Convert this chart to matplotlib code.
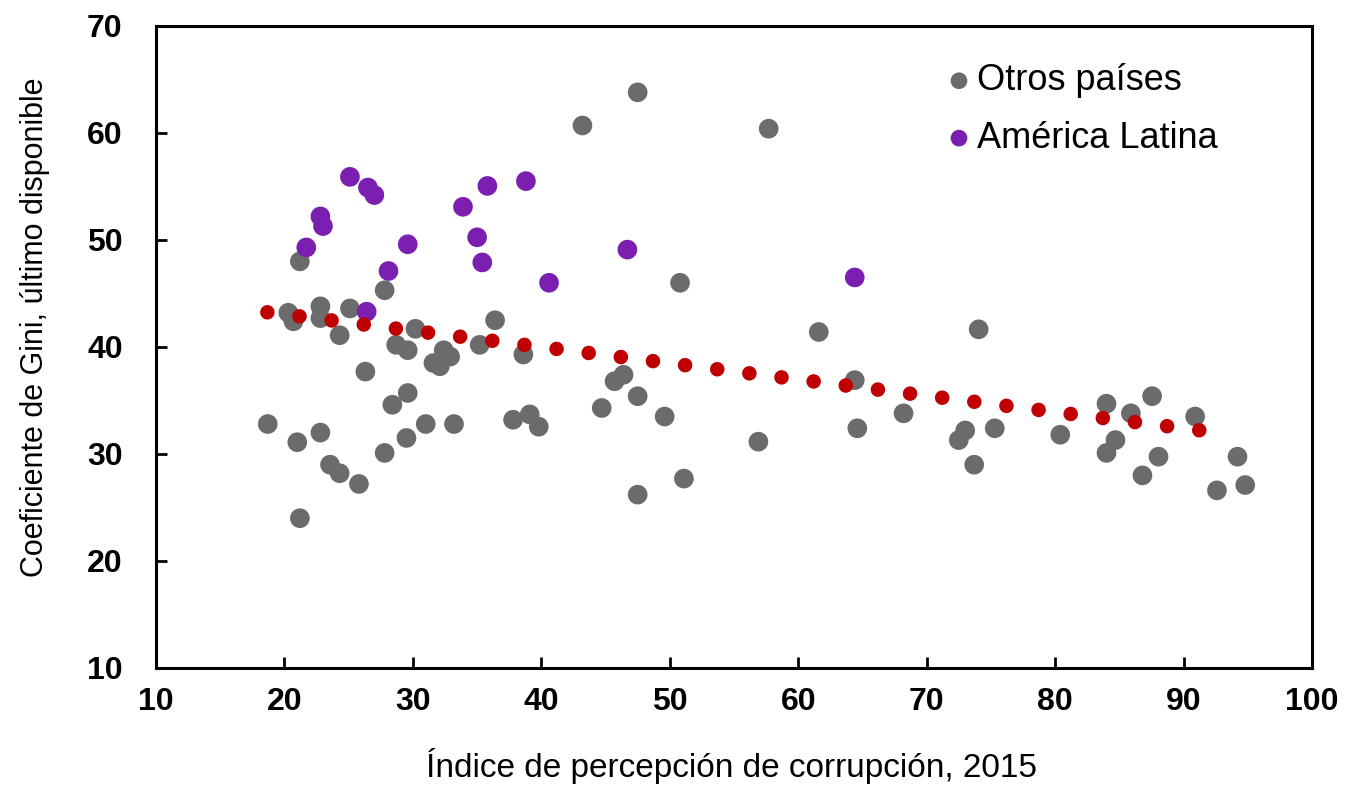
import matplotlib
matplotlib.use('Agg')
import matplotlib.pyplot as plt

# Otros países (gray)
otros_x = [18.7, 21.0, 22.8, 21.2, 23.55, 24.3, 25.8, 27.8, 29.5, 31.0, 33.2, 37.8,
           39.1, 39.8, 28.4, 29.6, 26.3, 28.7, 29.6, 30.2, 31.6, 32.4, 32.9, 32.1,
           35.2, 36.4, 38.6, 24.3, 22.8, 22.8, 20.3, 20.7, 25.1, 21.2, 27.8, 43.2,
           47.5, 57.7, 50.8, 61.6, 45.7, 46.4, 47.5, 44.7, 49.6, 56.9, 51.1, 47.5,
           64.4, 64.6, 68.2, 74.05, 73.0, 72.5, 75.3, 73.7, 80.4, 84.0, 85.9, 87.55,
           84.7, 84.0, 88.05, 86.8, 90.9, 94.2, 92.6, 94.8]
otros_y = [32.8, 31.1, 32.0, 24.0, 29.0, 28.2, 27.2, 30.1, 31.5, 32.8, 32.8, 33.2,
           33.7, 32.55, 34.6, 35.7, 37.7, 40.2, 39.7, 41.7, 38.5, 39.7, 39.1, 38.2,
           40.2, 42.5, 39.3, 41.1, 43.8, 42.7, 43.2, 42.4, 43.6, 48.0, 45.3, 60.7,
           63.8, 60.4, 46.0, 41.4, 36.8, 37.4, 35.4, 34.3, 33.5, 31.15, 27.7, 26.2,
           36.9, 32.4, 33.8, 41.65, 32.2, 31.3, 32.4, 29.0, 31.8, 34.7, 33.8, 35.4,
           31.3, 30.1, 29.75, 28.0, 33.5, 29.75, 26.6, 27.1]

# América Latina (purple)
latam_x = [25.1, 26.5, 27.0, 22.8, 23.0, 21.7, 29.6, 28.1, 33.9, 35.8, 38.8, 35.0,
           35.4, 40.6, 46.7, 64.4, 26.4]
latam_y = [55.9, 54.9, 54.2, 52.2, 51.3, 49.3, 49.6, 47.1, 53.1, 55.05, 55.5, 50.25,
           47.9, 46.0, 49.1, 46.5, 43.3]

# linear trend (dotted red)
trend_x = [18.67, 92.0]
trend_y = [43.24, 32.1]

xticks = [10, 20, 30, 40, 50, 60, 70, 80, 90, 100]
yticks = [10, 20, 30, 40, 50, 60, 70]

plt.rcParams['font.family'] = ['Liberation Sans', 'DejaVu Sans']

fig = plt.figure(figsize=(13.53, 7.94), dpi=100)
ax = fig.add_axes([0.1153, 0.1587, 0.8544, 0.8086])

ax.scatter(otros_x, otros_y, s=200, color='#6b6b6b', edgecolors='none',
           label='Otros países', zorder=2)
ax.scatter(latam_x, latam_y, s=200, color='#7a1fb0', edgecolors='none',
           label='América Latina', zorder=3)
ax.plot(trend_x, trend_y, color='#c00000', lw=10.5, linestyle=(0, (0.001, 2.22)),
        dash_capstyle='round', zorder=4)

ax.set_xlim(10, 100)
ax.set_ylim(10, 70)
ax.set_xticks(xticks)
ax.set_yticks(yticks)
ax.tick_params(direction='in', length=8, width=2, labelsize=23)
ax.tick_params(axis='y', pad=24)
ax.tick_params(axis='x', pad=14)
for lab in ax.get_xticklabels() + ax.get_yticklabels():
    lab.set_fontweight('bold')
for sp in ax.spines.values():
    sp.set_linewidth(2.2)

ax.set_xlabel('Índice de percepción de corrupción, 2015', fontsize=24)
ax.set_ylabel('Coeficiente de Gini, último disponible', fontsize=22)
ax.xaxis.set_label_coords(0.498, -0.125)
ax.yaxis.set_label_coords(-0.092, 0.53)

ax.legend(loc='upper left', bbox_to_anchor=(0.679, 0.942), frameon=False,
          fontsize=26, markerscale=0.85, handletextpad=0.0, borderaxespad=0,
          borderpad=0, labelspacing=0.62, handlelength=1.0)

fig.savefig('out.png', dpi=100)
